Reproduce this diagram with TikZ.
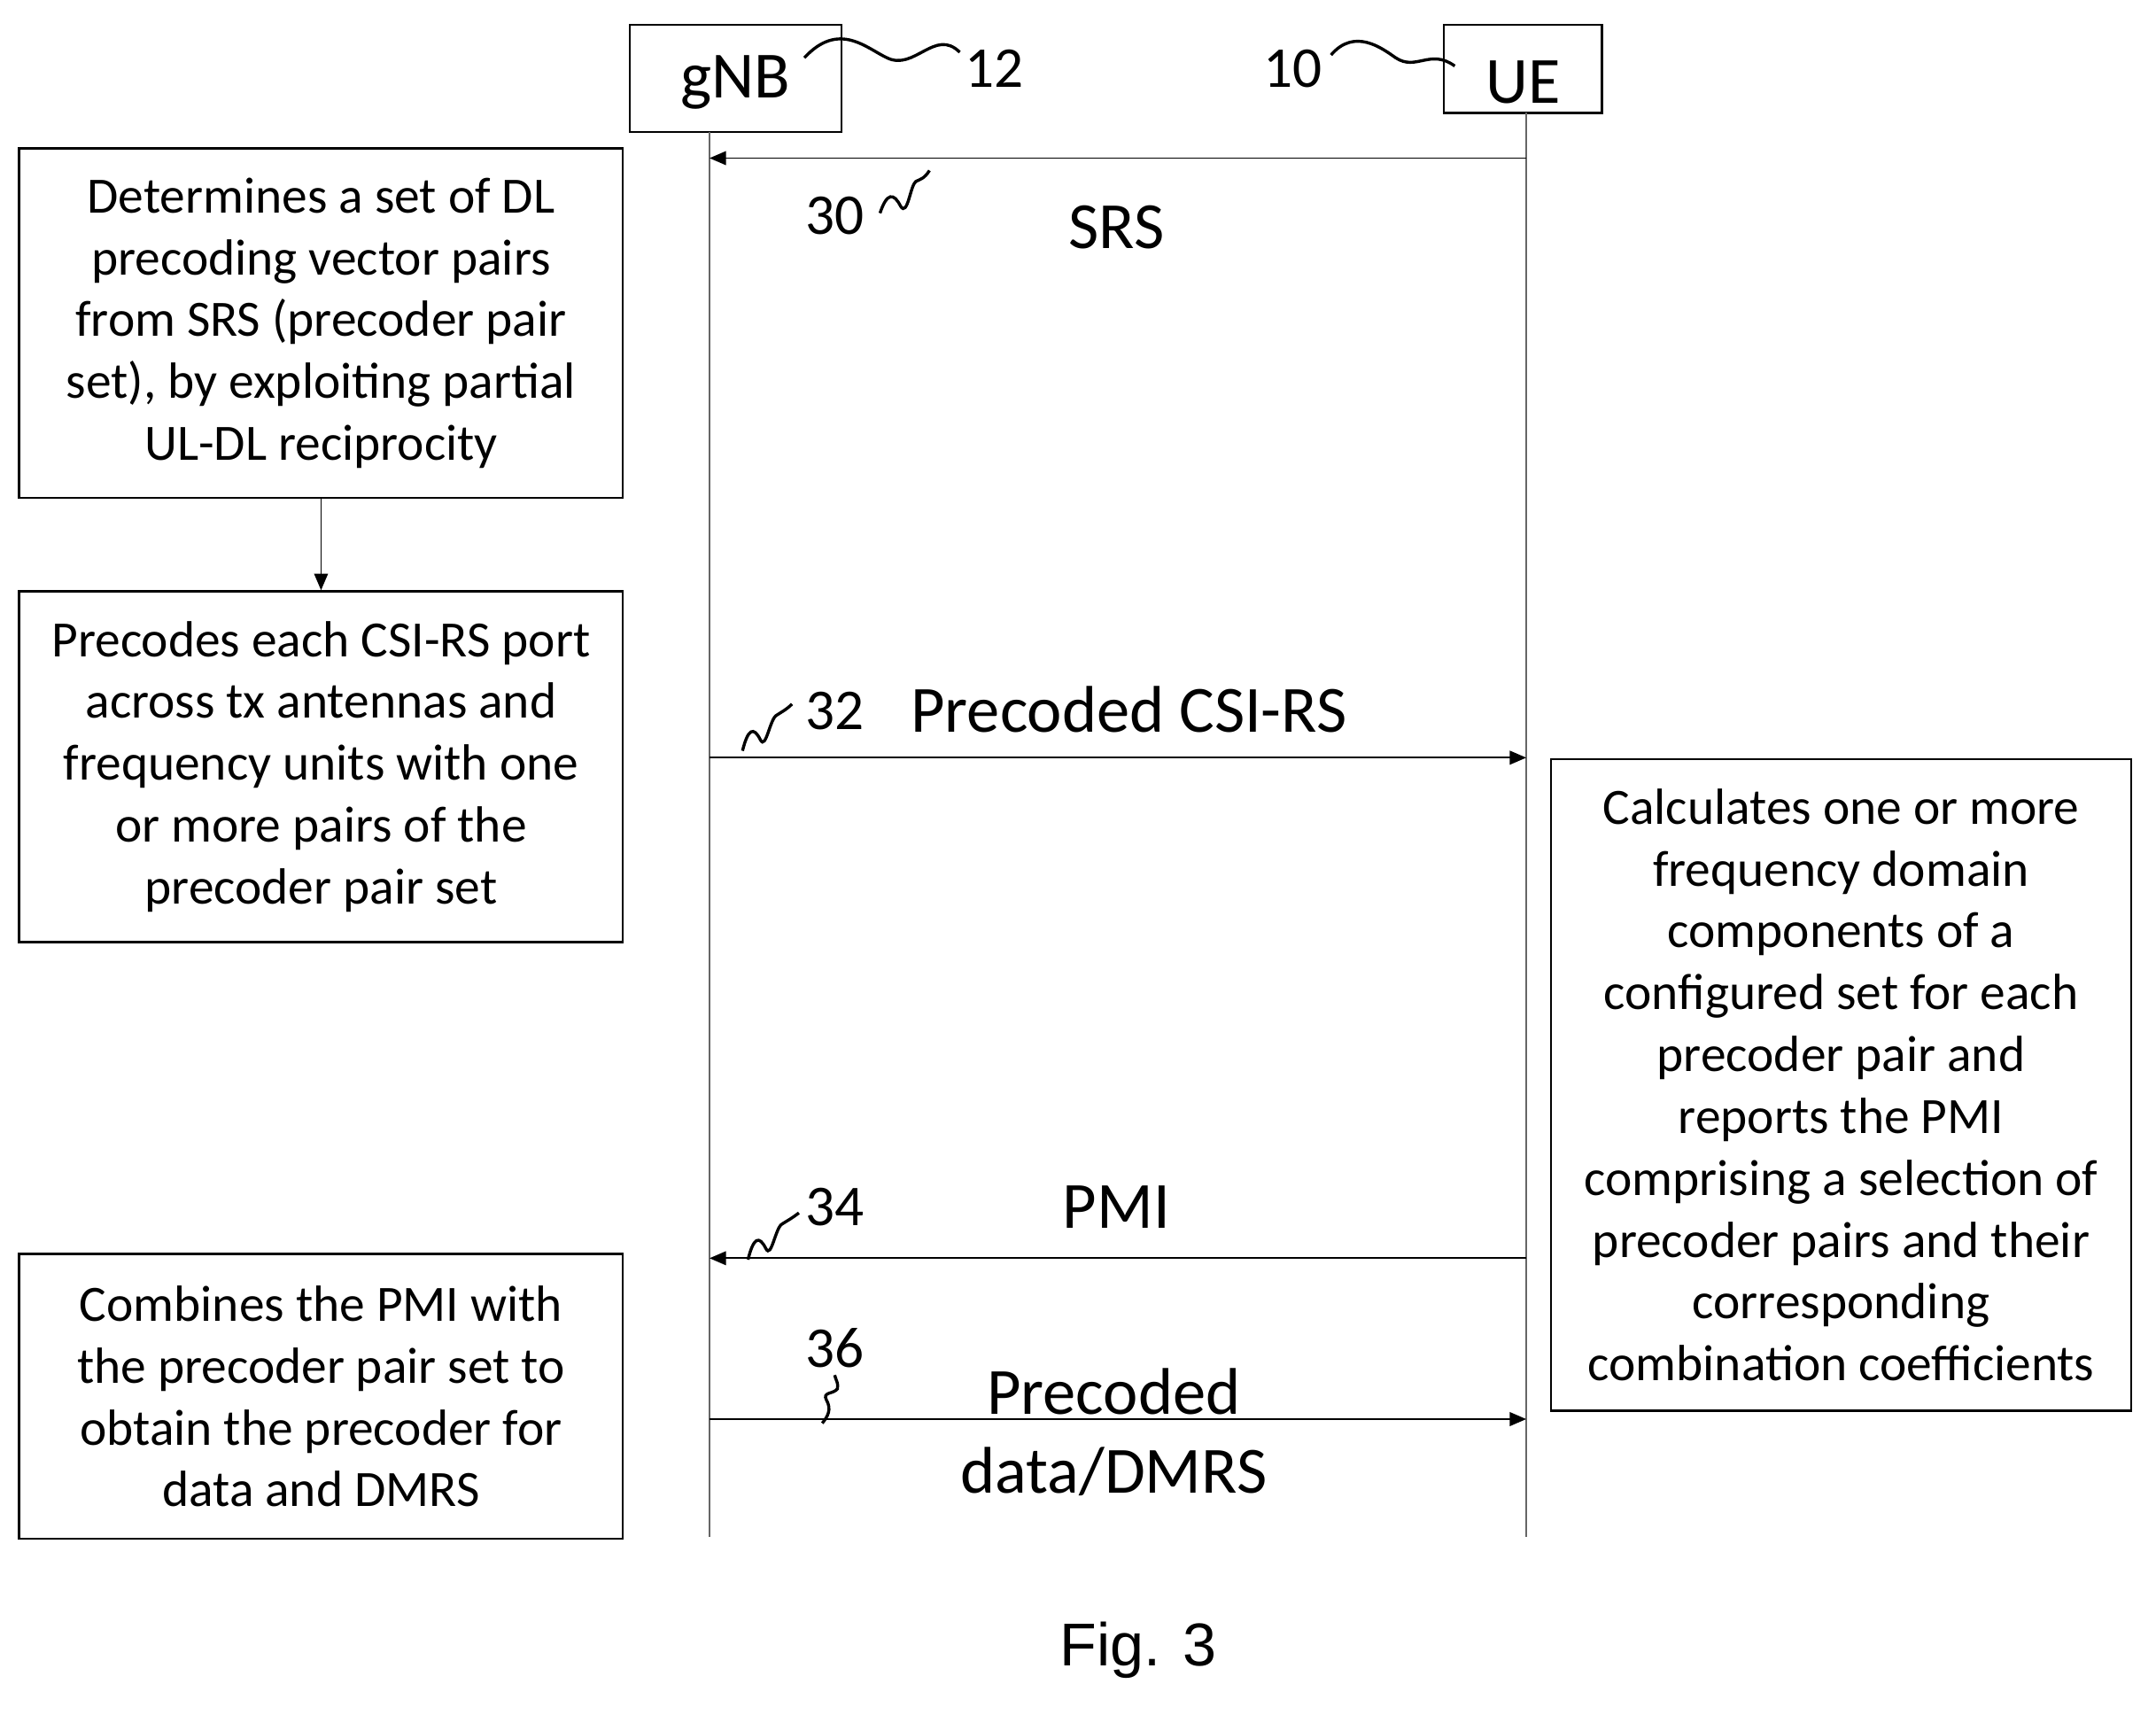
\documentclass[tikz,border=0pt]{standalone}
\usepackage{fontspec}
\setmainfont{Carlito}
\newfontfamily\arialf{Liberation Sans}
\usetikzlibrary{arrows.meta,decorations.pathmorphing}
\begin{document}
\begin{tikzpicture}[x=0.5pt,y=-0.5pt,
  box/.style={draw,line width=0.8pt,inner sep=0},
  txt/.style={font=\fontsize{18.5}{22.5}\selectfont,align=center,inner sep=0},
  lbl/.style={font=\fontsize{24}{28}\selectfont,inner sep=0},
  num/.style={font=\fontsize{21}{25}\selectfont,inner sep=0},
  life/.style={line width=0.6pt,gray!80!black},
  msg/.style={line width=0.6pt,-{Triangle[length=6pt,width=5pt]}},
  sq/.style={line width=1.1pt}]
\useasboundingbox (0,0) rectangle (1568,1247);
% entities
\draw[box] (458,18) rectangle (612,96);
\node[lbl] (gnb) at (535,60) {gNB};
\draw[box] (1050,18) rectangle (1165,82);
\node[lbl] (ue) at (1108,60) {UE};
\node[num] (n12) at (723,50) {12};
\node[num] (n10) at (940,50) {10};
\draw[sq] (585,42) .. controls (610,15) and (630,35) .. (645,42) .. controls (665,52) and (680,20) .. (698,38);
\draw[sq] (968,40) .. controls (985,20) and (1005,35) .. (1015,42) .. controls (1030,52) and (1040,35) .. (1058,48);
% lifelines
\coordinate (g0) at (516,96); \coordinate (g1) at (516,1118);
\coordinate (u0) at (1110,82); \coordinate (u1) at (1110,1118);
\draw[life] (g0)--(g1); \draw[life] (u0)--(u1);
% left boxes
\node[box,txt,minimum width=219.5pt,minimum height=127pt] (b1) at (233.5,235)
 {Determines a set of DL\\precoding vector pairs\\from SRS (precoder pair\\set), by exploiting partial\\UL-DL reciprocity};
\node[box,txt,minimum width=219.5pt,minimum height=127.5pt] (b2) at (233.5,557.5)
 {Precodes each CSI-RS port\\across tx antennas and\\frequency units with one\\or more pairs of the\\precoder pair set};
\node[box,txt,minimum width=219.5pt,minimum height=103.5pt] (b3) at (233.5,1015.5)
 {Combines the PMI with\\the precoder pair set to\\obtain the precoder for\\data and DMRS};
\draw[msg,line width=0.5pt] (b1) -- (b2);
\node[box,txt,minimum width=211pt,minimum height=237pt] (b4) at (1339,789)
 {Calculates one or more\\frequency domain\\components of a\\configured set for each\\precoder pair and\\reports the PMI\\comprising a selection of\\precoder pairs and their\\corresponding\\combination coefficients};
% messages
\coordinate (s1) at (1110,115); \coordinate (s2) at (516,115);
\draw[msg] (s1)--(s2);
\node[num] (l30) at (607,157) {30};
\draw[sq] (640,155) .. controls (645,140) and (650,140) .. (655,150) .. controls (660,158) and (662,135) .. (666,132) .. controls (670,130) and (672,130) .. (676,124);
\node[lbl] (srs) at (812,165) {SRS};
\coordinate (c1) at (516,551); \coordinate (c2) at (1110,551);
\draw[msg] (c1)--(c2);
\node[num] (l32) at (607,517) {32};
\draw[sq] (540,546) .. controls (544,530) and (548,528) .. (553,538) .. controls (557,546) and (560,522) .. (565,520) .. controls (568,518) and (572,516) .. (576,512);
\node[lbl] (csi) at (821,516) {Precoded CSI-RS};
\coordinate (p1) at (1110,915); \coordinate (p2) at (516,915);
\draw[msg] (p1)--(p2);
\node[num] (l34) at (607,878) {34};
\draw[sq] (544,916) .. controls (548,900) and (552,898) .. (557,908) .. controls (561,916) and (564,892) .. (569,890) .. controls (572,888) and (576,886) .. (581,882);
\node[lbl] (pmi) at (812,878) {PMI};
\coordinate (d1) at (516,1032); \coordinate (d2) at (1110,1032);
\draw[msg] (d1)--(d2);
\node[num] (l36) at (607,980) {36};
\draw[sq] (598,1035) .. controls (602,1030) and (605,1025) .. (601,1018) .. controls (598,1012) and (606,1014) .. (609,1010) .. controls (610,1006) and (608,1004) .. (607,1000);
\node[lbl] (pd) at (810,1012) {Precoded};
\node[lbl] (dd) at (810,1070) {data/DMRS};
\node[inner sep=0,font=\arialf\fontsize{22}{26}\selectfont] (fig) at (828,1200) {Fig. 3};
\end{tikzpicture}
\end{document}
